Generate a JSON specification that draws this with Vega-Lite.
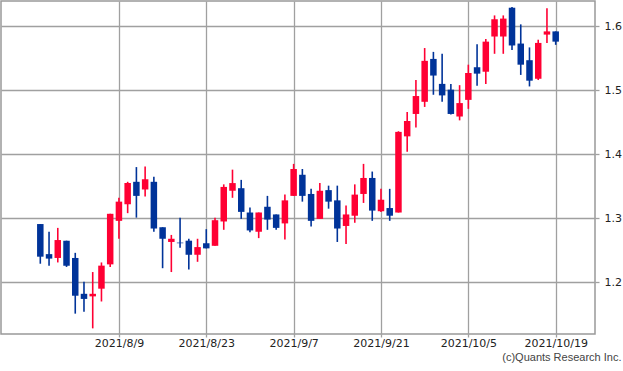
{
  "$schema": "https://vega.github.io/schema/vega-lite/v6.json",
  "width": 594,
  "height": 333,
  "autosize": {"type": "none"},
  "padding": {"left": 1, "top": 1, "right": 28, "bottom": 37},
  "background": "white",
  "title": {
    "text": "(c)Quants Research Inc.",
    "orient": "bottom",
    "anchor": "end",
    "frame": "bounds",
    "font": "Liberation Sans",
    "fontSize": 11,
    "fontWeight": "normal",
    "color": "#444444",
    "offset": 4
  },
  "config": {
    "view": {"stroke": "#999999", "strokeWidth": 1.5},
    "axis": {
      "gridColor": "#a0a0a0",
      "gridWidth": 1.3,
      "gridOpacity": 1,
      "tickColor": "#a0a0a0",
      "tickWidth": 1.3,
      "domain": false,
      "labelFont": "DejaVu Sans",
      "labelFontSize": 11,
      "labelColor": "#222222"
    }
  },
  "data": {
    "values": [
      {"date": "2021/7/27", "open": 1.291, "high": 1.291, "low": 1.229, "close": 1.240},
      {"date": "2021/7/28", "open": 1.244, "high": 1.279, "low": 1.226, "close": 1.237},
      {"date": "2021/7/29", "open": 1.238, "high": 1.285, "low": 1.231, "close": 1.266},
      {"date": "2021/7/30", "open": 1.265, "high": 1.265, "low": 1.224, "close": 1.226},
      {"date": "2021/8/2", "open": 1.238, "high": 1.246, "low": 1.151, "close": 1.179},
      {"date": "2021/8/3", "open": 1.182, "high": 1.201, "low": 1.154, "close": 1.174},
      {"date": "2021/8/4", "open": 1.178, "high": 1.216, "low": 1.128, "close": 1.182},
      {"date": "2021/8/5", "open": 1.190, "high": 1.231, "low": 1.170, "close": 1.226},
      {"date": "2021/8/6", "open": 1.228, "high": 1.307, "low": 1.224, "close": 1.307},
      {"date": "2021/8/9", "open": 1.296, "high": 1.332, "low": 1.268, "close": 1.326},
      {"date": "2021/8/10", "open": 1.322, "high": 1.357, "low": 1.308, "close": 1.355},
      {"date": "2021/8/11", "open": 1.357, "high": 1.380, "low": 1.301, "close": 1.335},
      {"date": "2021/8/12", "open": 1.345, "high": 1.381, "low": 1.334, "close": 1.361},
      {"date": "2021/8/13", "open": 1.357, "high": 1.365, "low": 1.279, "close": 1.284},
      {"date": "2021/8/16", "open": 1.286, "high": 1.286, "low": 1.222, "close": 1.268},
      {"date": "2021/8/17", "open": 1.263, "high": 1.274, "low": 1.216, "close": 1.268},
      {"date": "2021/8/18", "open": 1.262, "high": 1.301, "low": 1.254, "close": 1.261},
      {"date": "2021/8/19", "open": 1.265, "high": 1.268, "low": 1.220, "close": 1.243},
      {"date": "2021/8/20", "open": 1.243, "high": 1.268, "low": 1.232, "close": 1.255},
      {"date": "2021/8/23", "open": 1.261, "high": 1.283, "low": 1.253, "close": 1.253},
      {"date": "2021/8/24", "open": 1.257, "high": 1.301, "low": 1.257, "close": 1.297},
      {"date": "2021/8/25", "open": 1.295, "high": 1.353, "low": 1.282, "close": 1.349},
      {"date": "2021/8/26", "open": 1.343, "high": 1.376, "low": 1.332, "close": 1.355},
      {"date": "2021/8/27", "open": 1.347, "high": 1.360, "low": 1.299, "close": 1.310},
      {"date": "2021/8/30", "open": 1.309, "high": 1.317, "low": 1.278, "close": 1.281},
      {"date": "2021/8/31", "open": 1.279, "high": 1.309, "low": 1.269, "close": 1.309},
      {"date": "2021/9/1", "open": 1.318, "high": 1.335, "low": 1.282, "close": 1.298},
      {"date": "2021/9/2", "open": 1.306, "high": 1.306, "low": 1.282, "close": 1.285},
      {"date": "2021/9/3", "open": 1.292, "high": 1.337, "low": 1.267, "close": 1.328},
      {"date": "2021/9/7", "open": 1.335, "high": 1.385, "low": 1.335, "close": 1.377},
      {"date": "2021/9/8", "open": 1.368, "high": 1.377, "low": 1.326, "close": 1.335},
      {"date": "2021/9/9", "open": 1.338, "high": 1.346, "low": 1.287, "close": 1.296},
      {"date": "2021/9/10", "open": 1.299, "high": 1.355, "low": 1.299, "close": 1.343},
      {"date": "2021/9/13", "open": 1.344, "high": 1.351, "low": 1.315, "close": 1.326},
      {"date": "2021/9/14", "open": 1.328, "high": 1.351, "low": 1.263, "close": 1.284},
      {"date": "2021/9/15", "open": 1.288, "high": 1.320, "low": 1.260, "close": 1.306},
      {"date": "2021/9/16", "open": 1.304, "high": 1.353, "low": 1.293, "close": 1.337},
      {"date": "2021/9/17", "open": 1.338, "high": 1.385, "low": 1.324, "close": 1.363},
      {"date": "2021/9/20", "open": 1.363, "high": 1.373, "low": 1.296, "close": 1.312},
      {"date": "2021/9/21", "open": 1.311, "high": 1.346, "low": 1.310, "close": 1.329},
      {"date": "2021/9/22", "open": 1.316, "high": 1.346, "low": 1.296, "close": 1.304},
      {"date": "2021/9/23", "open": 1.309, "high": 1.436, "low": 1.309, "close": 1.435},
      {"date": "2021/9/24", "open": 1.428, "high": 1.466, "low": 1.404, "close": 1.452},
      {"date": "2021/9/27", "open": 1.463, "high": 1.516, "low": 1.442, "close": 1.491},
      {"date": "2021/9/28", "open": 1.482, "high": 1.566, "low": 1.474, "close": 1.546},
      {"date": "2021/9/29", "open": 1.549, "high": 1.560, "low": 1.493, "close": 1.523},
      {"date": "2021/9/30", "open": 1.510, "high": 1.557, "low": 1.482, "close": 1.492},
      {"date": "2021/10/1", "open": 1.501, "high": 1.510, "low": 1.462, "close": 1.463},
      {"date": "2021/10/4", "open": 1.459, "high": 1.508, "low": 1.453, "close": 1.480},
      {"date": "2021/10/5", "open": 1.485, "high": 1.540, "low": 1.471, "close": 1.527},
      {"date": "2021/10/6", "open": 1.536, "high": 1.572, "low": 1.507, "close": 1.526},
      {"date": "2021/10/7", "open": 1.529, "high": 1.580, "low": 1.510, "close": 1.576},
      {"date": "2021/10/8", "open": 1.584, "high": 1.617, "low": 1.557, "close": 1.611},
      {"date": "2021/10/11", "open": 1.584, "high": 1.617, "low": 1.557, "close": 1.612},
      {"date": "2021/10/12", "open": 1.629, "high": 1.630, "low": 1.563, "close": 1.570},
      {"date": "2021/10/13", "open": 1.573, "high": 1.603, "low": 1.524, "close": 1.540},
      {"date": "2021/10/14", "open": 1.547, "high": 1.567, "low": 1.506, "close": 1.515},
      {"date": "2021/10/15", "open": 1.518, "high": 1.579, "low": 1.516, "close": 1.574},
      {"date": "2021/10/18", "open": 1.587, "high": 1.628, "low": 1.574, "close": 1.592},
      {"date": "2021/10/19", "open": 1.592, "high": 1.592, "low": 1.571, "close": 1.576}
    ]
  },
  "encoding": {
    "x": {
      "field": "date",
      "type": "ordinal",
      "sort": null,
      "scale": {
        "type": "point",
        "padding": 0.5,
        "domain": ["2021/7/21", "2021/7/22", "2021/7/23", "2021/7/26",
          "2021/7/27", "2021/7/28", "2021/7/29", "2021/7/30", "2021/8/2", "2021/8/3", "2021/8/4", "2021/8/5", "2021/8/6",
          "2021/8/9", "2021/8/10", "2021/8/11", "2021/8/12", "2021/8/13", "2021/8/16", "2021/8/17", "2021/8/18", "2021/8/19", "2021/8/20",
          "2021/8/23", "2021/8/24", "2021/8/25", "2021/8/26", "2021/8/27", "2021/8/30", "2021/8/31", "2021/9/1", "2021/9/2", "2021/9/3",
          "2021/9/7", "2021/9/8", "2021/9/9", "2021/9/10", "2021/9/13", "2021/9/14", "2021/9/15", "2021/9/16", "2021/9/17", "2021/9/20",
          "2021/9/21", "2021/9/22", "2021/9/23", "2021/9/24", "2021/9/27", "2021/9/28", "2021/9/29", "2021/9/30", "2021/10/1", "2021/10/4",
          "2021/10/5", "2021/10/6", "2021/10/7", "2021/10/8", "2021/10/11", "2021/10/12", "2021/10/13", "2021/10/14", "2021/10/15", "2021/10/18",
          "2021/10/19", "2021/10/20", "2021/10/21", "2021/10/22", "2021/10/25"]
      },
      "axis": {
        "values": ["2021/8/9", "2021/8/23", "2021/9/7", "2021/9/21", "2021/10/5", "2021/10/19"],
        "labelAngle": 0,
        "title": null,
        "grid": true,
        "tickSize": 3,
        "labelPadding": 0
      }
    },
    "color": {
      "condition": {"test": "datum.close > datum.open", "value": "#ff0033"},
      "value": "#003399"
    }
  },
  "layer": [
    {
      "mark": {"type": "rule", "strokeWidth": 1.6},
      "encoding": {
        "y": {
          "field": "low",
          "type": "quantitative",
          "scale": {"domain": [1.1192, 1.6395], "nice": false, "zero": false},
          "axis": {
            "orient": "right",
            "values": [1.2, 1.3, 1.4, 1.5, 1.6],
            "format": ".1f",
            "title": null,
            "grid": true,
            "tickSize": 4,
            "labelPadding": 5
          }
        },
        "y2": {"field": "high"}
      }
    },
    {
      "mark": {"type": "bar", "size": 6.5},
      "encoding": {
        "y": {"field": "open", "type": "quantitative"},
        "y2": {"field": "close"}
      }
    }
  ]
}
